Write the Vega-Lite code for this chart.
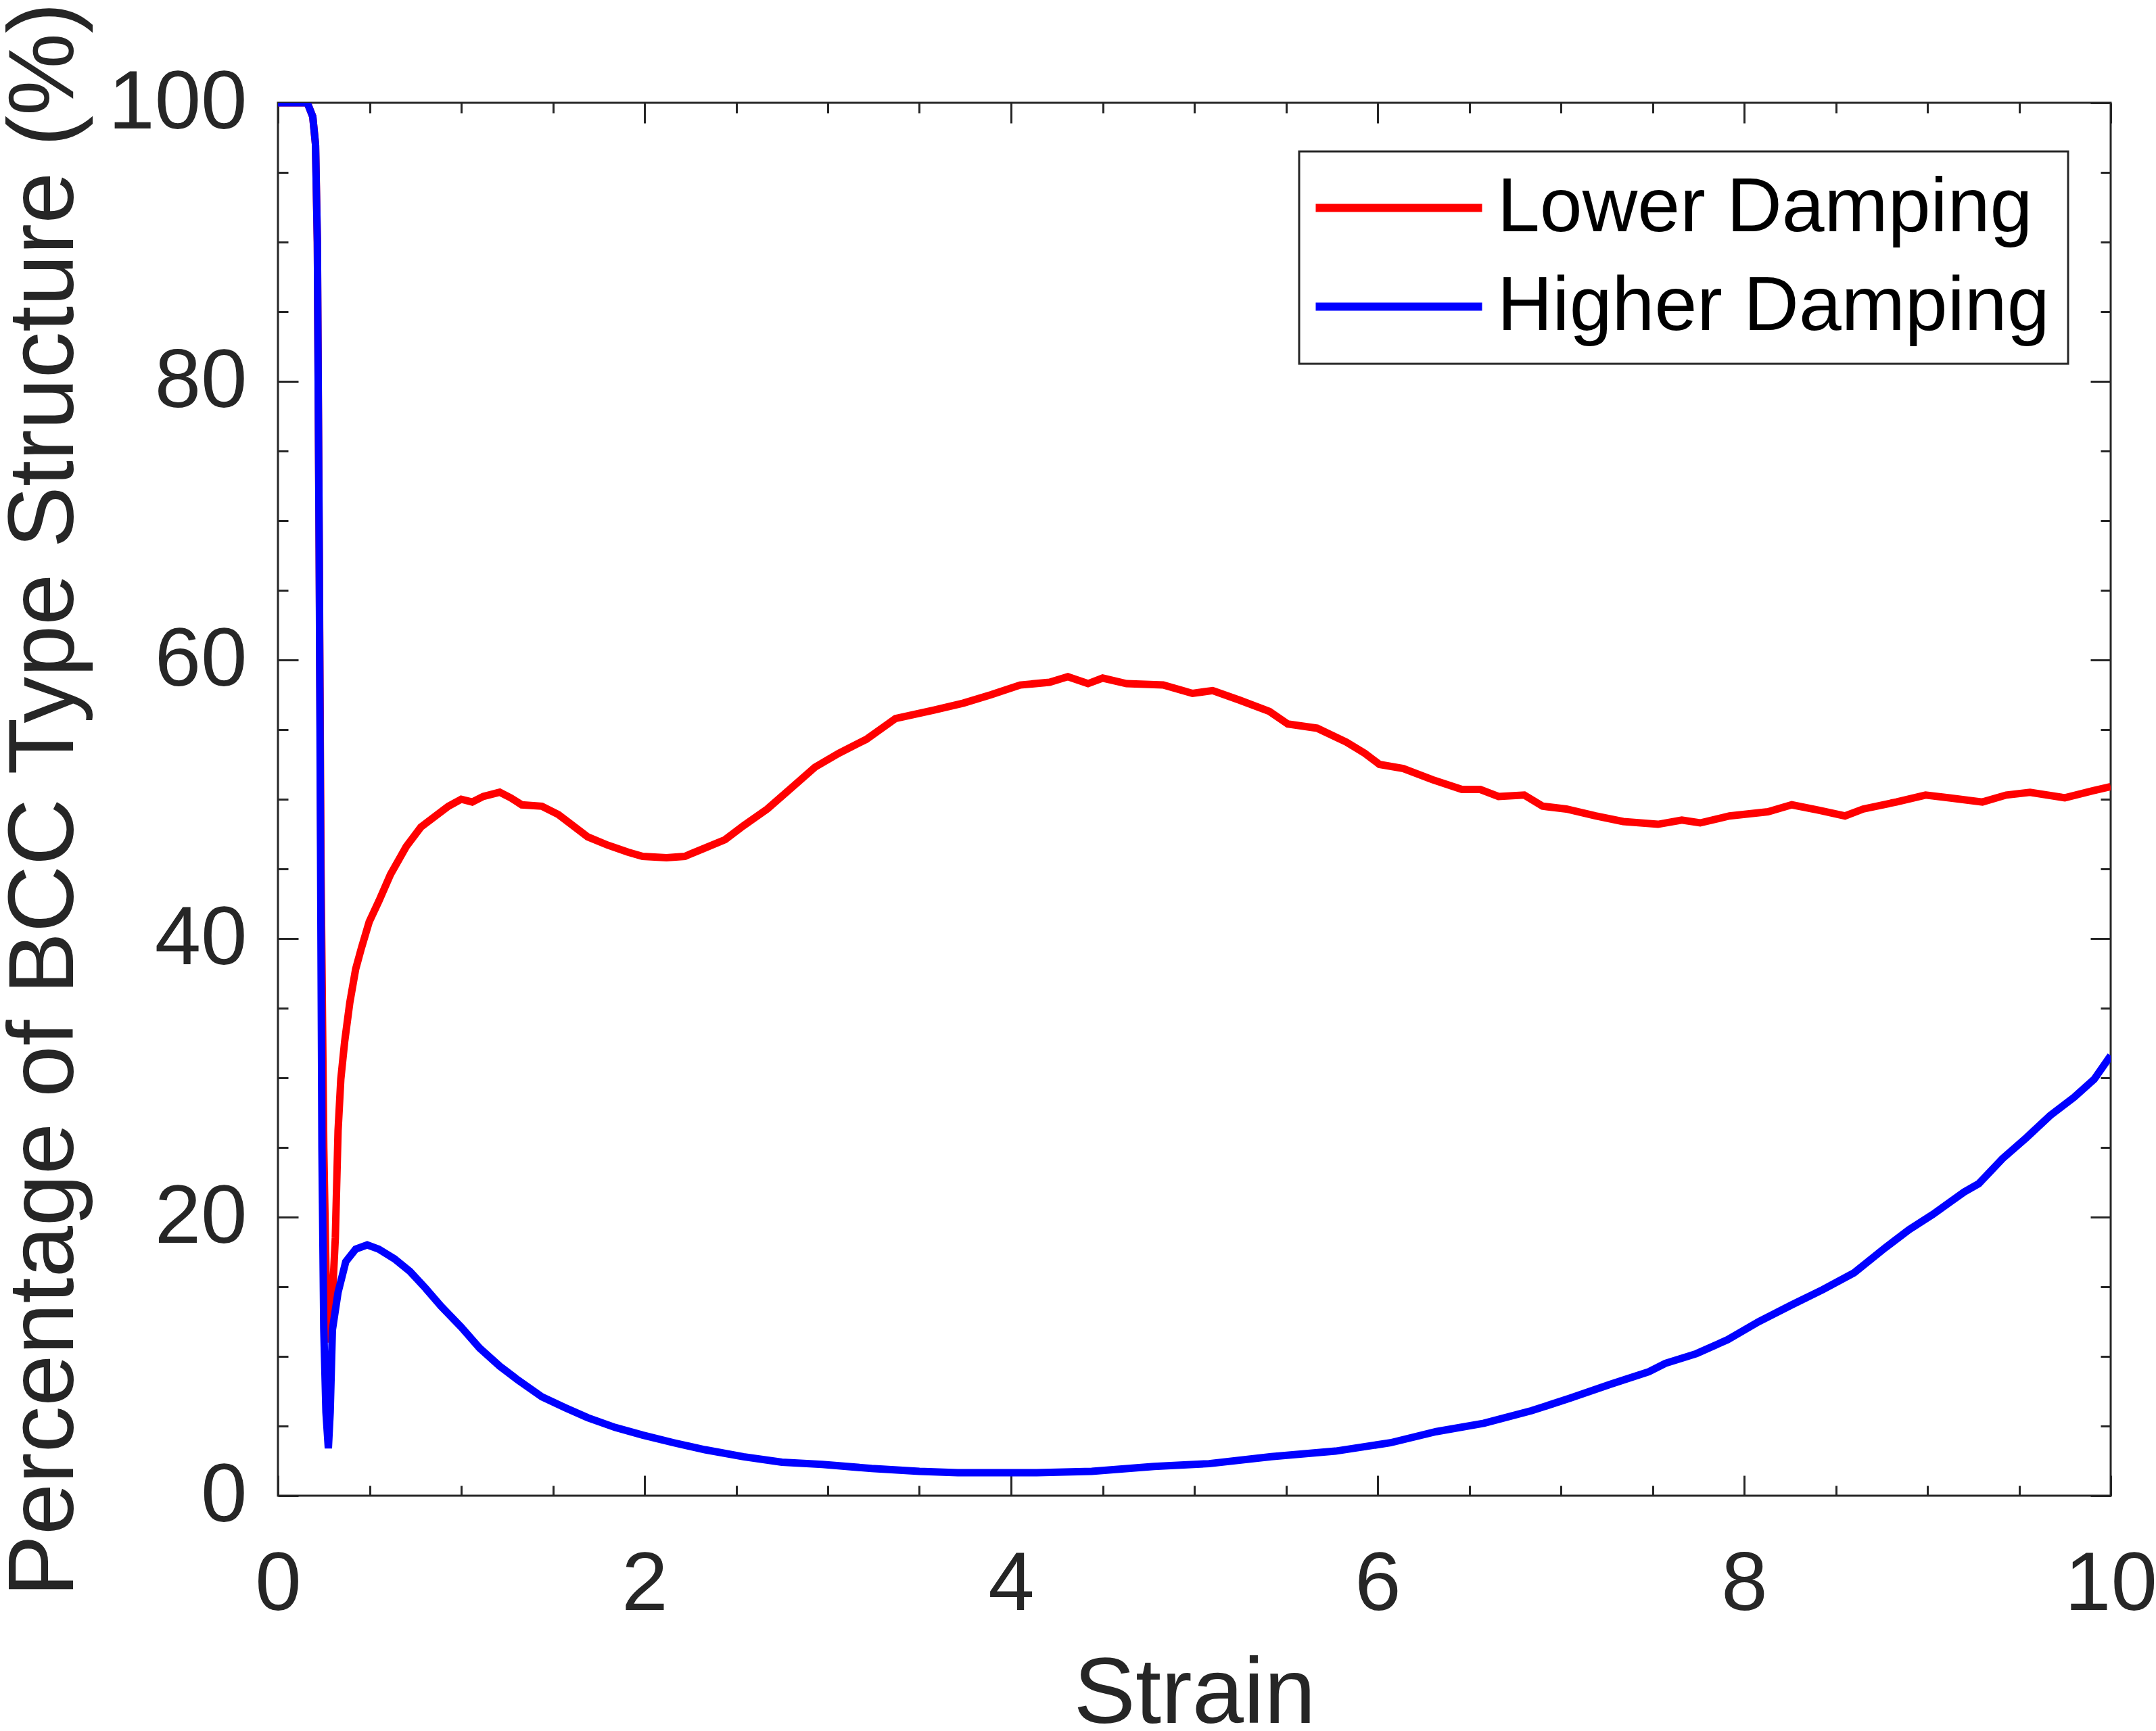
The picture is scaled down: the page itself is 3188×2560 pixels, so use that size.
{
  "$schema": "https://vega.github.io/schema/vega-lite/v6.json",
  "description": "Percentage of BCC type structure against strain, lower vs higher damping",
  "width": 2710,
  "height": 2060,
  "autosize": {"type": "none"},
  "padding": {"left": 411, "top": 152, "right": 67, "bottom": 348},
  "background": "white",
  "config": {
    "font": "Liberation Sans",
    "view": {"stroke": "#262626", "strokeWidth": 3},
    "axis": {
      "domain": false,
      "grid": false,
      "tickColor": "#262626",
      "tickWidth": 3,
      "labelColor": "#262626",
      "labelFont": "Liberation Sans",
      "labelFontSize": 123,
      "labelLimit": 1000,
      "labelOverlap": false,
      "labelFlush": false,
      "labelBound": false,
      "titleFont": "Liberation Sans",
      "titleFontSize": 137,
      "titleFontWeight": "normal",
      "titleColor": "#262626",
      "titleLimit": 4000
    },
    "legend": {
      "labelFont": "Liberation Sans",
      "labelFontSize": 113,
      "labelColor": "black",
      "labelLimit": 2000,
      "padding": 27,
      "strokeColor": "#262626",
      "strokeWidth": 3,
      "fillColor": "white",
      "symbolType": "M-3,0H3",
      "symbolSize": 6724,
      "symbolStrokeWidth": 12,
      "symbolOffset": 64,
      "labelOffset": 89,
      "rowPadding": 32
    }
  },
  "data": {
    "values": [
      {"series": "Lower Damping", "strain": 0, "bcc": 100},
      {"series": "Lower Damping", "strain": 0.1, "bcc": 100},
      {"series": "Lower Damping", "strain": 0.16, "bcc": 100},
      {"series": "Lower Damping", "strain": 0.19, "bcc": 99},
      {"series": "Lower Damping", "strain": 0.205, "bcc": 97},
      {"series": "Lower Damping", "strain": 0.215, "bcc": 90},
      {"series": "Lower Damping", "strain": 0.225, "bcc": 68},
      {"series": "Lower Damping", "strain": 0.235, "bcc": 45},
      {"series": "Lower Damping", "strain": 0.25, "bcc": 25},
      {"series": "Lower Damping", "strain": 0.265, "bcc": 14},
      {"series": "Lower Damping", "strain": 0.278, "bcc": 11},
      {"series": "Lower Damping", "strain": 0.3, "bcc": 15},
      {"series": "Lower Damping", "strain": 0.313, "bcc": 18.5},
      {"series": "Lower Damping", "strain": 0.328, "bcc": 26.2},
      {"series": "Lower Damping", "strain": 0.343, "bcc": 29.9},
      {"series": "Lower Damping", "strain": 0.364, "bcc": 32.6},
      {"series": "Lower Damping", "strain": 0.392, "bcc": 35.4},
      {"series": "Lower Damping", "strain": 0.424, "bcc": 37.8},
      {"series": "Lower Damping", "strain": 0.455, "bcc": 39.3},
      {"series": "Lower Damping", "strain": 0.498, "bcc": 41.2},
      {"series": "Lower Damping", "strain": 0.551, "bcc": 42.7},
      {"series": "Lower Damping", "strain": 0.614, "bcc": 44.6},
      {"series": "Lower Damping", "strain": 0.7, "bcc": 46.6},
      {"series": "Lower Damping", "strain": 0.78, "bcc": 48.0},
      {"series": "Lower Damping", "strain": 0.87, "bcc": 48.9},
      {"series": "Lower Damping", "strain": 0.93, "bcc": 49.5},
      {"series": "Lower Damping", "strain": 1.0, "bcc": 50.0},
      {"series": "Lower Damping", "strain": 1.06, "bcc": 49.8},
      {"series": "Lower Damping", "strain": 1.12, "bcc": 50.2},
      {"series": "Lower Damping", "strain": 1.21, "bcc": 50.5},
      {"series": "Lower Damping", "strain": 1.27, "bcc": 50.1},
      {"series": "Lower Damping", "strain": 1.33, "bcc": 49.6},
      {"series": "Lower Damping", "strain": 1.44, "bcc": 49.5},
      {"series": "Lower Damping", "strain": 1.53, "bcc": 48.9},
      {"series": "Lower Damping", "strain": 1.61, "bcc": 48.1},
      {"series": "Lower Damping", "strain": 1.69, "bcc": 47.3},
      {"series": "Lower Damping", "strain": 1.8, "bcc": 46.7},
      {"series": "Lower Damping", "strain": 1.91, "bcc": 46.2},
      {"series": "Lower Damping", "strain": 1.99, "bcc": 45.9},
      {"series": "Lower Damping", "strain": 2.12, "bcc": 45.8},
      {"series": "Lower Damping", "strain": 2.22, "bcc": 45.9},
      {"series": "Lower Damping", "strain": 2.33, "bcc": 46.5},
      {"series": "Lower Damping", "strain": 2.44, "bcc": 47.1},
      {"series": "Lower Damping", "strain": 2.54, "bcc": 48.1},
      {"series": "Lower Damping", "strain": 2.67, "bcc": 49.3},
      {"series": "Lower Damping", "strain": 2.8, "bcc": 50.8},
      {"series": "Lower Damping", "strain": 2.93, "bcc": 52.3},
      {"series": "Lower Damping", "strain": 3.06, "bcc": 53.3},
      {"series": "Lower Damping", "strain": 3.21, "bcc": 54.3},
      {"series": "Lower Damping", "strain": 3.37, "bcc": 55.8},
      {"series": "Lower Damping", "strain": 3.58, "bcc": 56.4},
      {"series": "Lower Damping", "strain": 3.74, "bcc": 56.9},
      {"series": "Lower Damping", "strain": 3.89, "bcc": 57.5},
      {"series": "Lower Damping", "strain": 4.05, "bcc": 58.2},
      {"series": "Lower Damping", "strain": 4.21, "bcc": 58.4},
      {"series": "Lower Damping", "strain": 4.31, "bcc": 58.8},
      {"series": "Lower Damping", "strain": 4.42, "bcc": 58.3},
      {"series": "Lower Damping", "strain": 4.5, "bcc": 58.7},
      {"series": "Lower Damping", "strain": 4.63, "bcc": 58.3},
      {"series": "Lower Damping", "strain": 4.83, "bcc": 58.2},
      {"series": "Lower Damping", "strain": 4.99, "bcc": 57.6},
      {"series": "Lower Damping", "strain": 5.1, "bcc": 57.8},
      {"series": "Lower Damping", "strain": 5.25, "bcc": 57.1},
      {"series": "Lower Damping", "strain": 5.41, "bcc": 56.3},
      {"series": "Lower Damping", "strain": 5.51, "bcc": 55.4},
      {"series": "Lower Damping", "strain": 5.67, "bcc": 55.1},
      {"series": "Lower Damping", "strain": 5.83, "bcc": 54.1},
      {"series": "Lower Damping", "strain": 5.93, "bcc": 53.3},
      {"series": "Lower Damping", "strain": 6.01, "bcc": 52.5},
      {"series": "Lower Damping", "strain": 6.14, "bcc": 52.2},
      {"series": "Lower Damping", "strain": 6.3, "bcc": 51.4},
      {"series": "Lower Damping", "strain": 6.46, "bcc": 50.7},
      {"series": "Lower Damping", "strain": 6.56, "bcc": 50.7},
      {"series": "Lower Damping", "strain": 6.66, "bcc": 50.2},
      {"series": "Lower Damping", "strain": 6.8, "bcc": 50.3},
      {"series": "Lower Damping", "strain": 6.9, "bcc": 49.5},
      {"series": "Lower Damping", "strain": 7.03, "bcc": 49.3},
      {"series": "Lower Damping", "strain": 7.19, "bcc": 48.8},
      {"series": "Lower Damping", "strain": 7.34, "bcc": 48.4},
      {"series": "Lower Damping", "strain": 7.53, "bcc": 48.2},
      {"series": "Lower Damping", "strain": 7.66, "bcc": 48.5},
      {"series": "Lower Damping", "strain": 7.76, "bcc": 48.3},
      {"series": "Lower Damping", "strain": 7.92, "bcc": 48.8},
      {"series": "Lower Damping", "strain": 8.13, "bcc": 49.1},
      {"series": "Lower Damping", "strain": 8.26, "bcc": 49.6},
      {"series": "Lower Damping", "strain": 8.41, "bcc": 49.2},
      {"series": "Lower Damping", "strain": 8.55, "bcc": 48.8},
      {"series": "Lower Damping", "strain": 8.65, "bcc": 49.3},
      {"series": "Lower Damping", "strain": 8.83, "bcc": 49.8},
      {"series": "Lower Damping", "strain": 8.99, "bcc": 50.3},
      {"series": "Lower Damping", "strain": 9.12, "bcc": 50.1},
      {"series": "Lower Damping", "strain": 9.3, "bcc": 49.8},
      {"series": "Lower Damping", "strain": 9.43, "bcc": 50.3},
      {"series": "Lower Damping", "strain": 9.56, "bcc": 50.5},
      {"series": "Lower Damping", "strain": 9.75, "bcc": 50.1},
      {"series": "Lower Damping", "strain": 9.9, "bcc": 50.6},
      {"series": "Lower Damping", "strain": 10, "bcc": 50.9},
      {"series": "Higher Damping", "strain": 0, "bcc": 100},
      {"series": "Higher Damping", "strain": 0.1, "bcc": 100},
      {"series": "Higher Damping", "strain": 0.16, "bcc": 100},
      {"series": "Higher Damping", "strain": 0.19, "bcc": 99},
      {"series": "Higher Damping", "strain": 0.205, "bcc": 97},
      {"series": "Higher Damping", "strain": 0.215, "bcc": 90},
      {"series": "Higher Damping", "strain": 0.225, "bcc": 68},
      {"series": "Higher Damping", "strain": 0.233, "bcc": 45},
      {"series": "Higher Damping", "strain": 0.24, "bcc": 25},
      {"series": "Higher Damping", "strain": 0.25, "bcc": 12},
      {"series": "Higher Damping", "strain": 0.262, "bcc": 6},
      {"series": "Higher Damping", "strain": 0.275, "bcc": 3.4},
      {"series": "Higher Damping", "strain": 0.285, "bcc": 6},
      {"series": "Higher Damping", "strain": 0.297, "bcc": 11.9},
      {"series": "Higher Damping", "strain": 0.328, "bcc": 14.6},
      {"series": "Higher Damping", "strain": 0.37, "bcc": 16.8},
      {"series": "Higher Damping", "strain": 0.424, "bcc": 17.7},
      {"series": "Higher Damping", "strain": 0.487, "bcc": 18.0},
      {"series": "Higher Damping", "strain": 0.55, "bcc": 17.7},
      {"series": "Higher Damping", "strain": 0.636, "bcc": 17.0},
      {"series": "Higher Damping", "strain": 0.72, "bcc": 16.1},
      {"series": "Higher Damping", "strain": 0.805, "bcc": 14.9},
      {"series": "Higher Damping", "strain": 0.89, "bcc": 13.6},
      {"series": "Higher Damping", "strain": 1.0, "bcc": 12.1},
      {"series": "Higher Damping", "strain": 1.1, "bcc": 10.6},
      {"series": "Higher Damping", "strain": 1.21, "bcc": 9.3},
      {"series": "Higher Damping", "strain": 1.31, "bcc": 8.3},
      {"series": "Higher Damping", "strain": 1.44, "bcc": 7.1},
      {"series": "Higher Damping", "strain": 1.57, "bcc": 6.3},
      {"series": "Higher Damping", "strain": 1.69, "bcc": 5.6},
      {"series": "Higher Damping", "strain": 1.84, "bcc": 4.9},
      {"series": "Higher Damping", "strain": 1.99, "bcc": 4.35},
      {"series": "Higher Damping", "strain": 2.16, "bcc": 3.8},
      {"series": "Higher Damping", "strain": 2.33, "bcc": 3.3},
      {"series": "Higher Damping", "strain": 2.54, "bcc": 2.8},
      {"series": "Higher Damping", "strain": 2.75, "bcc": 2.4},
      {"series": "Higher Damping", "strain": 2.97, "bcc": 2.25},
      {"series": "Higher Damping", "strain": 3.24, "bcc": 1.95},
      {"series": "Higher Damping", "strain": 3.5, "bcc": 1.75},
      {"series": "Higher Damping", "strain": 3.71, "bcc": 1.65},
      {"series": "Higher Damping", "strain": 4.14, "bcc": 1.65},
      {"series": "Higher Damping", "strain": 4.44, "bcc": 1.75},
      {"series": "Higher Damping", "strain": 4.78, "bcc": 2.1},
      {"series": "Higher Damping", "strain": 5.08, "bcc": 2.3},
      {"series": "Higher Damping", "strain": 5.42, "bcc": 2.8},
      {"series": "Higher Damping", "strain": 5.77, "bcc": 3.2},
      {"series": "Higher Damping", "strain": 6.07, "bcc": 3.8},
      {"series": "Higher Damping", "strain": 6.32, "bcc": 4.6},
      {"series": "Higher Damping", "strain": 6.58, "bcc": 5.2},
      {"series": "Higher Damping", "strain": 6.84, "bcc": 6.1},
      {"series": "Higher Damping", "strain": 7.05, "bcc": 7.0},
      {"series": "Higher Damping", "strain": 7.27, "bcc": 8.0},
      {"series": "Higher Damping", "strain": 7.48, "bcc": 8.9},
      {"series": "Higher Damping", "strain": 7.57, "bcc": 9.5},
      {"series": "Higher Damping", "strain": 7.74, "bcc": 10.2},
      {"series": "Higher Damping", "strain": 7.91, "bcc": 11.2},
      {"series": "Higher Damping", "strain": 8.08, "bcc": 12.5},
      {"series": "Higher Damping", "strain": 8.26, "bcc": 13.7},
      {"series": "Higher Damping", "strain": 8.43, "bcc": 14.8},
      {"series": "Higher Damping", "strain": 8.6, "bcc": 16.0},
      {"series": "Higher Damping", "strain": 8.77, "bcc": 17.8},
      {"series": "Higher Damping", "strain": 8.9, "bcc": 19.1},
      {"series": "Higher Damping", "strain": 9.03, "bcc": 20.2},
      {"series": "Higher Damping", "strain": 9.2, "bcc": 21.8},
      {"series": "Higher Damping", "strain": 9.28, "bcc": 22.4},
      {"series": "Higher Damping", "strain": 9.41, "bcc": 24.2},
      {"series": "Higher Damping", "strain": 9.54, "bcc": 25.7},
      {"series": "Higher Damping", "strain": 9.67, "bcc": 27.3},
      {"series": "Higher Damping", "strain": 9.8, "bcc": 28.6},
      {"series": "Higher Damping", "strain": 9.91, "bcc": 29.9},
      {"series": "Higher Damping", "strain": 10, "bcc": 31.6}
    ]
  },
  "layer": [
    {
      "transform": [{"filter": "datum.series === 'Lower Damping'"}],
      "mark": {"type": "line", "strokeWidth": 11, "clip": true},
      "encoding": {
        "x": {
          "field": "strain", "type": "quantitative",
          "scale": {"domain": [0, 10], "nice": false, "zero": false},
          "axis": {
            "orient": "bottom",
            "title": "Strain",
            "values": [0, 0.5, 1, 1.5, 2, 2.5, 3, 3.5, 4, 4.5, 5, 5.5, 6, 6.5, 7, 7.5, 8, 8.5, 9, 9.5, 10],
            "labelExpr": "datum.value % 2 === 0 ? format(datum.value, 'd') : ''",
            "tickSize": {"condition": {"test": "datum.value % 2 === 0", "value": -30}, "value": -15},
            "labelPadding": 101,
            "titlePadding": 27
          }
        },
        "y": {
          "field": "bcc", "type": "quantitative",
          "scale": {"domain": [0, 100], "nice": false},
          "axis": {
            "orient": "left",
            "title": "Percentage of BCC Type Structure (%)",
            "values": [0, 5, 10, 15, 20, 25, 30, 35, 40, 45, 50, 55, 60, 65, 70, 75, 80, 85, 90, 95, 100],
            "labelExpr": "datum.value % 20 === 0 ? format(datum.value, 'd') : ''",
            "tickSize": {"condition": {"test": "datum.value % 20 === 0", "value": -30}, "value": -15},
            "labelPadding": 76,
            "titlePadding": 75
          }
        },
        "color": {
          "field": "series", "type": "nominal",
          "scale": {"domain": ["Lower Damping", "Higher Damping"], "range": ["#ff0000", "#0000ff"]},
          "legend": {"title": null, "orient": "none", "legendX": 1510, "legendY": 72}
        }
      }
    },
    {
      "transform": [{"filter": "datum.series === 'Higher Damping'"}],
      "mark": {"type": "line", "strokeWidth": 11, "clip": true},
      "encoding": {
        "x": {
          "field": "strain", "type": "quantitative",
          "scale": {"domain": [0, 10], "nice": false, "zero": false},
          "axis": {
            "orient": "top",
            "title": null,
            "labels": false,
            "values": [0, 0.5, 1, 1.5, 2, 2.5, 3, 3.5, 4, 4.5, 5, 5.5, 6, 6.5, 7, 7.5, 8, 8.5, 9, 9.5, 10],
            "tickSize": {"condition": {"test": "datum.value % 2 === 0", "value": -30}, "value": -15}
          }
        },
        "y": {
          "field": "bcc", "type": "quantitative",
          "scale": {"domain": [0, 100], "nice": false},
          "axis": {
            "orient": "right",
            "title": null,
            "labels": false,
            "values": [0, 5, 10, 15, 20, 25, 30, 35, 40, 45, 50, 55, 60, 65, 70, 75, 80, 85, 90, 95, 100],
            "tickSize": {"condition": {"test": "datum.value % 20 === 0", "value": -30}, "value": -15}
          }
        },
        "color": {
          "field": "series", "type": "nominal",
          "scale": {"domain": ["Lower Damping", "Higher Damping"], "range": ["#ff0000", "#0000ff"]},
          "legend": {"title": null, "orient": "none", "legendX": 1510, "legendY": 72}
        }
      }
    }
  ],
  "resolve": {"axis": {"x": "independent", "y": "independent"}}
}
